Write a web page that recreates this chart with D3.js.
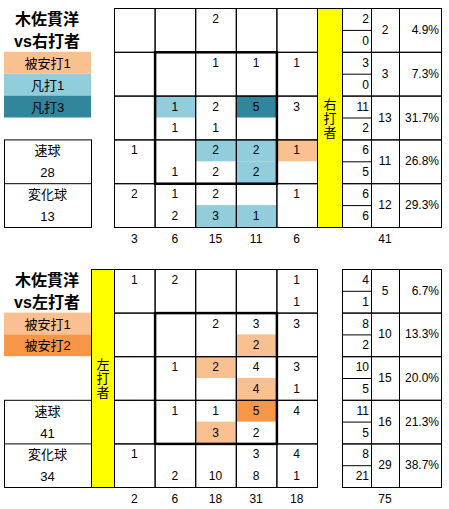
<!DOCTYPE html>
<html>
<head>
<meta charset="utf-8">
<script src="https://cdn.jsdelivr.net/npm/d3@7"></script>
<style>
body { margin: 0; background: #fff; }
text { font-family: "Liberation Sans", "Noto Sans CJK JP", sans-serif; fill: #000; }
</style>
</head>
<body>
<div id="chart"></div>
<script>
// zone columns (inside -> outside), 5 rows each split into fast / breaking ball
var cols = [0, 1, 2, 3, 4];
var rows = [0, 1, 2, 3, 4];

// vs right-handed batters
var rhFast = [[null, null, 2, null, null], [null, null, 1, 1, 1], [null, 1, 2, 5, 3], [1, null, 2, 2, 1], [2, 1, 2, null, 1]];
var rhBreak = [[null, null, null, null, null], [null, null, null, null, null], [null, 1, 1, null, null], [null, 1, 2, 2, null], [null, 2, 3, 1, null]];
var rhFastRes = [["", "", "", "", ""], ["", "", "", "", ""], ["", "o1", "", "o3", ""], ["", "", "o1", "o1", "h1"], ["", "", "", "", ""]];
var rhBreakRes = [["", "", "", "", ""], ["", "", "", "", ""], ["", "", "", "", ""], ["", "", "", "o1", ""], ["", "", "o1", "o1", ""]];

// vs left-handed batters
var lhFast = [[1, 2, null, null, 1], [null, null, 2, 3, 3], [null, 1, 2, 4, 3], [null, 1, 1, 5, 4], [1, null, null, 3, 4]];
var lhBreak = [[null, null, null, null, 1], [null, null, null, 2, null], [null, null, null, 4, 1], [null, null, 3, 2, null], [null, 2, 10, 8, 1]];
var lhFastRes = [["", "", "", "", ""], ["", "", "", "", ""], ["", "", "h1", "", ""], ["", "", "", "h2", ""], ["", "", "", "", ""]];
var lhBreakRes = [["", "", "", "", ""], ["", "", "", "h1", ""], ["", "", "", "h1", ""], ["", "", "h1", "", ""], ["", "", "", "", ""]];

var resCodes = ["h1", "h2", "o1", "o3"];
var resNames = ["被安打1", "被安打2", "凡打1", "凡打3"];
var resColor = d3.scaleOrdinal().domain(resCodes).range(["#fac090", "#f79646", "#92cddc", "#31859c"]);

var W = 449, H = 509;
var svg = d3.select("#chart").append("svg").attr("width", W).attr("height", H);

var x = d3.scaleBand().domain(cols).range([114, 317]);

function drawPanel(p) {
    var g = svg.append("g");
    var y = d3.scaleBand().domain(d3.range(10)).range([p.top, p.bottom]);
    var bh = y.bandwidth(), bw = x.bandwidth();

    // flatten into sub-row cells
    var cells = [];
    rows.forEach(function(r) {
        cols.forEach(function(c) {
            cells.push({ sub: r * 2, c: c, v: p.fast[r][c], res: p.fastRes[r][c] });
            cells.push({ sub: r * 2 + 1, c: c, v: p.brk[r][c], res: p.brkRes[r][c] });
        });
    });

    g.selectAll("rect.fill").data(cells.filter(function(d) { return d.res; }))
        .enter().append("rect")
        .attr("x", function(d) { return x(d.c); })
        .attr("y", function(d) { return y(d.sub); })
        .attr("width", bw).attr("height", bh)
        .style("fill", function(d) { return resColor(d.res); });

    g.selectAll("text.cell").data(cells.filter(function(d) { return d.v != null; }))
        .enter().append("text")
        .attr("x", function(d) { return x(d.c) + bw / 2; })
        .attr("y", function(d) { return y(d.sub) + bh / 2 + 4; })
        .attr("text-anchor", "middle")
        .style("font-size", "12px")
        .text(function(d) { return d.v; });

    // grid lines
    g.selectAll("rect.grid").data(cells.filter(function(d) { return d.sub % 2 == 0; }))
        .enter().append("rect")
        .attr("x", function(d) { return x(d.c) + 0.5; })
        .attr("y", function(d) { return y(d.sub) + 0.5; })
        .attr("width", bw).attr("height", bh * 2)
        .style("fill", "none").style("stroke", "#000").style("stroke-width", 1);

    // strike zone
    g.append("rect")
        .attr("x", x(1) + 0.5).attr("y", y(2) + 0.5)
        .attr("width", bw * 3).attr("height", bh * 6)
        .style("fill", "none").style("stroke", "#000").style("stroke-width", 2.5);

    // column totals
    var colTot = cols.map(function(c) {
        return d3.sum(rows, function(r) { return (p.fast[r][c] || 0) + (p.brk[r][c] || 0); });
    });
    g.selectAll("text.ctot").data(cols).enter().append("text")
        .attr("x", function(c) { return x(c) + bw / 2; })
        .attr("y", p.bottom + 16)
        .attr("text-anchor", "middle").style("font-size", "12px")
        .text(function(c) { return colTot[c]; });

    // yellow side label
    g.append("rect")
        .attr("x", p.yx + 0.5).attr("y", p.top + 0.5)
        .attr("width", p.yw).attr("height", p.bottom - p.top)
        .style("fill", "#ffff00").style("stroke", "#000");
    var midY = (p.top + p.bottom) / 2;
    p.side.split("").forEach(function(ch, i) {
        g.append("text").attr("text-anchor", "middle").style("font-size", "13px")
            .attr("x", p.yx + p.yw / 2 + 0.5)
            .attr("y", midY + 5 + (i - 1) * 14)
            .text(ch);
    });

    // right table
    var total = d3.sum(colTot);
    var tx = [342, 371, 399, 441];
    rows.forEach(function(r) {
        var f = d3.sum(p.fast[r]), b = d3.sum(p.brk[r]);
        var y0 = y(r * 2);
        g.append("rect").attr("x", tx[0] + 0.5).attr("y", y0 + 0.5)
            .attr("width", tx[1] - tx[0]).attr("height", bh * 2)
            .style("fill", "none").style("stroke", "#000");
        g.append("line").attr("x1", tx[0]).attr("x2", tx[1])
            .attr("y1", y0 + bh + 0.5).attr("y2", y0 + bh + 0.5).style("stroke", "#000");
        g.append("rect").attr("x", tx[1] + 0.5).attr("y", y0 + 0.5)
            .attr("width", tx[2] - tx[1]).attr("height", bh * 2)
            .style("fill", "none").style("stroke", "#000");
        g.append("rect").attr("x", tx[2] + 0.5).attr("y", y0 + 0.5)
            .attr("width", tx[3] - tx[2]).attr("height", bh * 2)
            .style("fill", "none").style("stroke", "#000");
        g.append("text").attr("x", tx[1] - 2).attr("y", y0 + bh / 2 + 4)
            .attr("text-anchor", "end").style("font-size", "12px").text(f);
        g.append("text").attr("x", tx[1] - 2).attr("y", y0 + bh * 1.5 + 4)
            .attr("text-anchor", "end").style("font-size", "12px").text(b);
        g.append("text").attr("x", (tx[1] + tx[2]) / 2).attr("y", y0 + bh + 4)
            .attr("text-anchor", "middle").style("font-size", "12px").text(f + b);
        g.append("text").attr("x", tx[3] - 2).attr("y", y0 + bh + 4)
            .attr("text-anchor", "end").style("font-size", "12px")
            .text((Math.round((f + b) / total * 1000) / 10).toFixed(1) + "%");
    });
    g.append("text").attr("x", (tx[1] + tx[2]) / 2).attr("y", p.bottom + 16)
        .attr("text-anchor", "middle").style("font-size", "12px").text(total);

    // title
    g.append("text").attr("x", 47).attr("y", y(0) + bh / 2 + 6)
        .attr("text-anchor", "middle").style("font-size", "16px").style("font-weight", "bold")
        .text(p.title[0]);
    g.append("text").attr("x", 47).attr("y", y(1) + bh / 2 + 6)
        .attr("text-anchor", "middle").style("font-size", "16px").style("font-weight", "bold")
        .text(p.title[1]);

    // legend
    p.legend.forEach(function(code, i) {
        g.append("rect").attr("x", 4).attr("y", y(2 + i)).attr("width", 87).attr("height", bh)
            .style("fill", resColor(code));
        g.append("text").attr("x", 47.5).attr("y", y(2 + i) + bh / 2 + 5)
            .attr("text-anchor", "middle").style("font-size", "13px")
            .text(resNames[resCodes.indexOf(code)]);
    });

    // pitch type box
    var fastTot = d3.sum(p.fast, function(r) { return d3.sum(r); });
    var brkTot = d3.sum(p.brk, function(r) { return d3.sum(r); });
    g.append("rect").attr("x", 4.5).attr("y", y(6) + 0.5).attr("width", 87).attr("height", bh * 4)
        .style("fill", "none").style("stroke", "#000");
    g.append("line").attr("x1", 4).attr("x2", 91).attr("y1", y(8) + 0.5).attr("y2", y(8) + 0.5)
        .style("stroke", "#000");
    [["速球", 6], [fastTot, 7], ["変化球", 8], [brkTot, 9]].forEach(function(t) {
        g.append("text").attr("x", 47.5).attr("y", y(t[1]) + bh / 2 + 5)
            .attr("text-anchor", "middle").style("font-size", "13px").text(t[0]);
    });
}

drawPanel({
    top: 8, bottom: 227, fast: rhFast, brk: rhBreak, fastRes: rhFastRes, brkRes: rhBreakRes,
    side: "右打者", yx: 317, yw: 25, title: ["木佐貫洋", "vs右打者"], legend: ["h1", "o1", "o3"]
});
drawPanel({
    top: 269, bottom: 487, fast: lhFast, brk: lhBreak, fastRes: lhFastRes, brkRes: lhBreakRes,
    side: "左打者", yx: 91, yw: 23, title: ["木佐貫洋", "vs左打者"], legend: ["h1", "h2"]
});
</script>
</body>
</html>
